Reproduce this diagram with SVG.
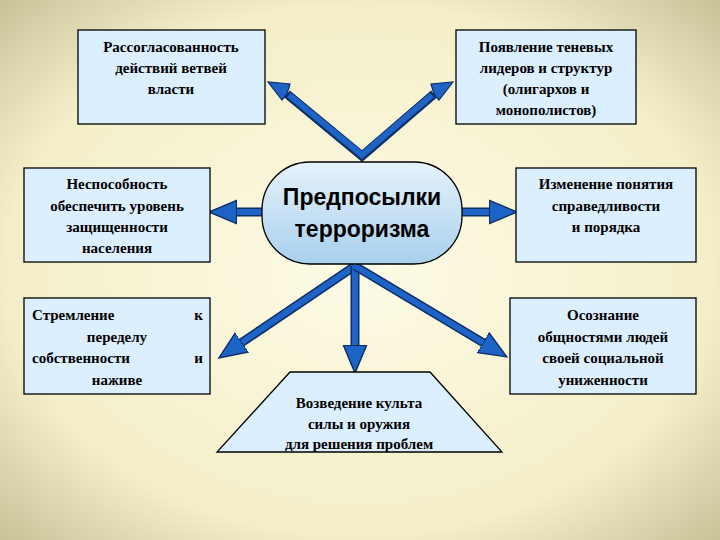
<svg xmlns="http://www.w3.org/2000/svg" width="720" height="540" viewBox="0 0 720 540">
<defs>
<radialGradient id="bg" cx="50%" cy="50%" r="70%">
<stop offset="0" stop-color="#fdfbe6"/><stop offset="0.7" stop-color="#f4efc8"/><stop offset="1" stop-color="#c9c39a"/>
</radialGradient>
<linearGradient id="cg" x1="0" y1="0" x2="0" y2="1">
<stop offset="0" stop-color="#e6f2fb"/><stop offset="1" stop-color="#a8d0ee"/>
</linearGradient>
<marker id="ah" markerUnits="userSpaceOnUse" markerWidth="30" markerHeight="30" refX="4" refY="12" orient="auto" viewBox="0 0 26 24">
<path d="M0,2 L24,12 L0,22 Z" fill="#1e63c6" stroke="#0d2f66" stroke-width="1.2"/>
</marker>
<style>
.box{fill:#dcefff;stroke:#000;stroke-width:1.3}
.t{font-family:"Liberation Serif",serif;font-size:15px;font-weight:bold;fill:#000;text-anchor:middle}
.l{text-anchor:start}
.r{text-anchor:end}
.ao{fill:none;stroke:#0d2f66;stroke-width:9;stroke-linejoin:miter}
.ai{fill:none;stroke:#1e63c6;stroke-width:6;stroke-linejoin:miter}
</style>
</defs>
<rect width="720" height="540" fill="url(#bg)"/>
<g id="connectors">
<path class="ao" d="M287,94 L362,156 L434,94"/>
<path class="ao" d="M262,212 L232,212"/><path class="ai" d="M262,212 L232,212" marker-end="url(#ah)"/>
<path class="ao" d="M462,212 L494,212"/><path class="ai" d="M462,212 L494,212" marker-end="url(#ah)"/>
<path class="ao" d="M355,266 L238,345"/><path class="ai" d="M355,266 L238,345" marker-end="url(#ah)"/>
<path class="ao" d="M355,266 L355,350"/><path class="ai" d="M355,266 L355,350" marker-end="url(#ah)"/>
<path class="ao" d="M355,266 L487,345"/><path class="ai" d="M355,266 L487,345" marker-end="url(#ah)"/>
<path d="M287,94 L290,84 L268,82 L282,100 Z" fill="#1e63c6" stroke="#0d2f66" stroke-width="1.2"/>
<path d="M434,94 L431,84 L453,82 L439,100 Z" fill="#1e63c6" stroke="#0d2f66" stroke-width="1.2"/>
<path class="ai" d="M289,95 L362,155 L432,95"/>
</g>
<g id="n1"><rect class="box" x="78" y="30" width="187" height="94"/>
<text class="t" x="171" y="52">Рассогласованность</text><text class="t" x="171" y="73">действий ветвей</text><text class="t" x="171" y="94">власти</text></g>
<g id="n2"><rect class="box" x="456" y="30" width="180" height="94"/>
<text class="t" x="546" y="52">Появление теневых</text><text class="t" x="546" y="73">лидеров и структур</text><text class="t" x="546" y="94">(олигархов и</text><text class="t" x="546" y="115">монополистов)</text></g>
<g id="n3"><rect class="box" x="24" y="168" width="186" height="94"/>
<text class="t" x="117" y="189">Неспособность</text><text class="t" x="117" y="211">обеспечить уровень</text><text class="t" x="117" y="232">защищенности</text><text class="t" x="117" y="253">населения</text></g>
<g id="n4"><rect class="box" x="516" y="168" width="180" height="94"/>
<text class="t" x="606" y="189">Изменение понятия</text><text class="t" x="606" y="211">справедливости</text><text class="t" x="606" y="232">и порядка</text></g>
<g id="n5"><rect class="box" x="24" y="298" width="186" height="96"/>
<text class="t l" x="32" y="320">Стремление</text><text class="t r" x="203" y="320">к</text><text class="t" x="117" y="342">переделу</text><text class="t l" x="32" y="363">собственности</text><text class="t r" x="203" y="363">и</text><text class="t" x="117" y="385">наживе</text></g>
<g id="n6"><rect class="box" x="510" y="298" width="186" height="96"/>
<text class="t" x="603" y="320">Осознание</text><text class="t" x="603" y="342">общностями людей</text><text class="t" x="603" y="363">своей социальной</text><text class="t" x="603" y="385">униженности</text></g>
<g id="n7"><path class="box" d="M290,372 L430,372 L502,452 L217,452 Z"/>
<text class="t" x="359" y="408">Возведение культа</text><text class="t" x="359" y="429">силы и оружия</text><text class="t" x="359" y="449">для решения проблем</text></g>
<g id="center"><rect x="262" y="162" width="200" height="102" rx="48" fill="url(#cg)" stroke="#000" stroke-width="1.3"/>
<text x="362" y="205" font-family="Liberation Sans,sans-serif" font-size="23" font-weight="bold" text-anchor="middle">Предпосылки</text>
<text x="362" y="237" font-family="Liberation Sans,sans-serif" font-size="23" font-weight="bold" text-anchor="middle">терроризма</text></g>
</svg>
